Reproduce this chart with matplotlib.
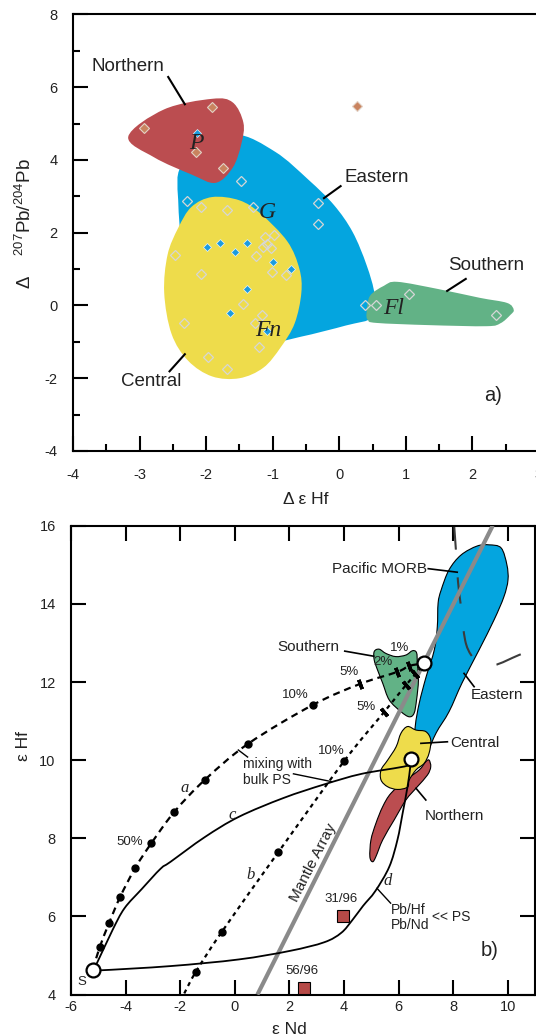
import numpy as np
import matplotlib
matplotlib.use('Agg')
import matplotlib.pyplot as plt
from matplotlib.path import Path
from matplotlib.patches import PathPatch

plt.rcParams['font.family'] = ['Liberation Sans', 'DejaVu Sans']
plt.rcParams['axes.unicode_minus'] = False
plt.rcParams['mathtext.fontset'] = 'custom'
plt.rcParams['mathtext.rm'] = 'Liberation Sans'
plt.rcParams['lines.scale_dashes'] = False

# ---- panel a: field outlines (delta eHf, delta 207Pb/204Pb) ----
north_a_x = [-3.17, -2.63, -1.91, -1.60, -1.44, -1.47, -1.60, -1.86, -2.22, -2.78]
north_a_y = [4.64, 5.39, 5.68, 5.58, 5.02, 4.45, 3.79, 3.37, 3.60, 4.07]
east_a_x = [-2.39, -2.05, -1.55, -0.96, -0.46, -0.08, 0.20, 0.41, 0.53, 0.50,
            0.10, -0.58, -1.11, -1.79, -2.31, -2.42]
east_a_y = [3.78, 4.15, 4.69, 4.22, 3.45, 2.76, 2.02, 1.11, 0.30, -0.32,
            -0.55, -0.86, -1.02, -0.67, 1.25, 2.90]
central_a_x = [-1.91, -1.50, -1.18, -0.78, -0.60, -0.57, -0.67, -0.88, -1.14, -1.50,
               -1.91, -2.27, -2.52, -2.63, -2.58, -2.42, -2.22]
central_a_y = [2.98, 2.89, 2.52, 1.76, 1.01, 0.35, -0.49, -1.15, -1.71, -2.00,
               -1.95, -1.52, -0.78, 0.35, 1.39, 2.13, 2.71]
south_a_x = [0.41, 0.46, 0.67, 0.87, 1.49, 2.11, 2.52, 2.62, 2.57, 2.42, 2.21, 1.34, 0.56, 0.43]
south_a_y = [-0.20, 0.26, 0.54, 0.65, 0.45, 0.21, 0.07, -0.12, -0.26, -0.49, -0.57, -0.54, -0.48, -0.40]

# samples
open_x = [-1.47, -2.29, -2.07, -1.69, -1.30, -0.32, -0.32, -1.11, -0.98, -1.14, -1.03, -1.09,
          -1.25, -2.47, -2.07, -1.01, -0.80, -1.45, -2.34, -1.26, -1.16, -1.21, -1.97, -1.69,
          0.38, 0.55, 1.05, 2.35]
open_y = [3.42, 2.88, 2.72, 2.63, 2.72, 2.82, 2.23, 1.87, 1.95, 1.62, 1.57, 1.69,
          1.37, 1.40, 0.87, 0.91, 0.83, 0.05, -0.49, -0.49, -0.26, -1.13, -1.42, -1.74,
          0.00, 0.00, 0.32, -0.25]
blue_x = [-2.14, -1.98, -1.79, -1.57, -1.38, -1.00, -0.72, -1.38, -1.64, -1.09]
blue_y = [4.73, 1.62, 1.71, 1.48, 1.71, 1.19, 1.01, 0.45, -0.20, -0.69]
brown_x = [-2.94, -1.91, -2.15, -1.74, 0.27]
brown_y = [4.87, 5.46, 4.23, 3.77, 5.48]

# ---- panel b: eNd vs eHf ----
east_b_x = [9.32, 9.76, 9.97, 10.01, 9.86, 9.50, 8.95, 8.33, 7.85, 7.38, 7.05, 6.76,
            6.54, 6.61, 6.76, 7.01, 7.31, 7.42, 7.45, 7.56, 7.85, 8.29, 8.88]
east_b_y = [15.51, 15.43, 15.00, 14.61, 14.18, 13.59, 12.82, 11.98, 11.24, 10.70, 10.18, 9.83,
            10.01, 10.85, 11.46, 12.13, 12.82, 13.41, 14.02, 14.35, 14.87, 15.25, 15.48]
south_b_x = [5.11, 5.29, 5.54, 5.90, 6.27, 6.51, 6.66, 6.69, 6.73, 6.66, 6.57, 6.39,
             6.09, 5.66, 5.42, 5.23, 5.11]
south_b_y = [12.78, 12.84, 12.73, 12.65, 12.69, 12.80, 12.75, 12.48, 12.05, 11.54, 11.20, 11.11,
             11.24, 11.54, 11.97, 12.31, 12.56]
central_b_x = [6.33, 6.64, 7.00, 7.18, 7.12, 6.94, 6.64, 6.39, 6.33, 5.96, 5.60, 5.36,
               5.36, 5.60, 5.91, 6.09]
central_b_y = [10.86, 10.77, 10.73, 10.52, 10.18, 9.92, 9.75, 9.49, 9.31, 9.25, 9.32, 9.49,
               9.75, 10.00, 10.34, 10.69]
north_b_x = [7.12, 7.18, 7.06, 6.69, 6.27, 5.84, 5.42, 5.17, 5.05, 4.95, 4.99, 5.17,
             5.42, 5.72, 6.27, 6.76, 7.00]
north_b_y = [10.00, 9.83, 9.62, 9.32, 8.98, 8.47, 7.96, 7.53, 7.40, 7.53, 7.96, 8.38,
             8.81, 9.15, 9.49, 9.75, 9.96]
morb_x = [8.04, 8.11, 8.18, 8.29, 8.44, 8.66, 8.95, 9.50, 10.41, 11.14]
morb_y = [15.99, 15.30, 14.56, 13.92, 13.07, 12.69, 12.51, 12.43, 12.69, 12.89]
mantle_x = [0.83, 9.45]
mantle_y = [4.0, 16.0]

# end members: S (sediment), Southern and Central sources
ends_x = [-5.20, 6.94, 6.45]
ends_y = [4.64, 12.48, 10.02]

# mixing curves
a_x = [-5.20, -4.95, -4.60, -4.20, -3.64, -3.06, -2.21, -1.09, 0.49, 2.85, 4.59, 5.96, 6.39, 6.94]
a_y = [4.64, 5.21, 5.84, 6.50, 7.25, 7.87, 8.68, 9.50, 10.42, 11.41, 11.95, 12.26, 12.41, 12.48]
a_dot_x = [-4.95, -4.60, -4.20, -3.64, -3.06, -2.21, -1.09, 0.49, 2.85]
a_dot_y = [5.21, 5.84, 6.50, 7.25, 7.87, 8.68, 9.50, 10.42, 11.41]
a_tick_x = [4.59, 5.96, 6.39]
a_tick_y = [11.95, 12.26, 12.41]
b_x = [-1.85, -1.43, -0.48, 1.59, 4.00, 5.46, 6.27, 6.62, 6.94]
b_y = [4.03, 4.58, 5.60, 7.64, 9.97, 11.22, 11.92, 12.20, 12.48]
b_dot_x = [-1.43, -0.48, 1.59, 4.00]
b_dot_y = [4.58, 5.60, 7.64, 9.97]
b_tick_x = [5.46, 6.27, 6.62]
b_tick_y = [11.22, 11.92, 12.20]
c_x = [-5.20, -5.04, -4.48, -4.04, -3.41, -2.72, -2.35, -1.10, 0.15, 1.78, 3.28, 4.65, 6.34, 6.45]
c_y = [4.64, 4.82, 5.65, 6.21, 6.70, 7.22, 7.40, 8.03, 8.55, 9.03, 9.38, 9.65, 9.86, 10.02]
d_x = [-5.20, -4.98, -2.35, 0.15, 2.03, 3.28, 3.90, 4.30, 4.70, 5.15, 5.66, 5.96, 6.15, 6.33, 6.43, 6.45]
d_y = [4.64, 4.62, 4.73, 4.90, 5.12, 5.34, 5.58, 5.90, 6.27, 6.65, 7.27, 7.96, 8.64, 9.32, 9.83, 10.02]

# individual samples
sq_x = [3.96, 2.53]
sq_y = [6.00, 4.16]
sq_labels = ['31/96', '56/96']

pct_labels = ['1%', '2%', '5%', '5%', '10%', '10%', '50%']
pct_x = [6.03, 5.42, 4.20, 4.81, 2.21, 3.52, -3.85]
pct_y = [12.86, 12.52, 12.26, 11.37, 11.66, 10.23, 7.91]

RED = '#BB4D50'
BLUE = '#04A5DF'
YELLOW = '#EEDC4B'
GREEN = '#62B286'


def smooth_path(xs, ys, closed=True):
    pts = np.column_stack([xs, ys]).astype(float)
    if closed:
        ext = np.vstack([pts[-1], pts, pts[0], pts[1]])
        nseg = len(pts)
    else:
        ext = np.vstack([pts[0], pts, pts[-1]])
        nseg = len(pts) - 1
    verts = [ext[1]]
    codes = [Path.MOVETO]
    for i in range(nseg):
        p0, p1, p2, p3 = ext[i], ext[i + 1], ext[i + 2], ext[i + 3]
        verts += [p1 + (p2 - p0) / 6, p2 - (p3 - p1) / 6, p2]
        codes += [Path.CURVE4] * 3
    if closed:
        verts.append(ext[1])
        codes.append(Path.CLOSEPOLY)
    return Path(verts, codes)


def px(x, y):
    return x / 536, 1 - y / 1036


fig = plt.figure(figsize=(5.36, 10.36), dpi=100)
ax1 = fig.add_axes([73 / 536, 1 - 451 / 1036, (539 - 73) / 536, (451 - 14.4) / 1036])
ax2 = fig.add_axes([71 / 536, 1 - 994.6 / 1036, (535 - 71) / 536, (994.6 - 525.7) / 1036])

# ---------------- panel a ----------------
for xs, ys, col in [(east_a_x, east_a_y, BLUE), (central_a_x, central_a_y, YELLOW),
                    (north_a_x, north_a_y, RED), (south_a_x, south_a_y, GREEN)]:
    ax1.add_patch(PathPatch(smooth_path(xs, ys), facecolor=col, edgecolor='none', zorder=1))

ax1.plot(open_x, open_y, 'D', ms=5, mfc='none', mec='#D6D6D6', mew=0.9, zorder=3)
ax1.plot(blue_x, blue_y, 'D', ms=4.5, mfc='#1A9BE0', mec='#E8F4FA', mew=0.5, zorder=3)
ax1.plot(brown_x, brown_y, 'D', ms=5, mfc='#C9835F', mec='#E2D2C6', mew=0.8, zorder=3)

serif_it = dict(family='Liberation Serif', style='italic', fontsize=17, ha='center',
                va='center', zorder=5, color='#222222')
ax1.text(-2.15, 4.45, 'P', **serif_it)
ax1.text(-1.08, 2.56, 'G', **serif_it)
ax1.text(-1.06, -0.68, 'Fn', **serif_it)
ax1.text(0.82, -0.07, 'Fl', **serif_it)

lab_a = dict(fontsize=13.5, ha='center', va='center', color='#222222', zorder=5)
ax1.text(-3.17, 6.56, 'Northern', **lab_a)
ax1.plot([-2.57, -2.32], [6.28, 5.53], color='k', lw=1.5, zorder=4)
ax1.text(0.56, 3.51, 'Eastern', **lab_a)
ax1.plot([0.02, -0.23], [3.28, 2.95], color='k', lw=1.5, zorder=4)
ax1.text(2.21, 1.10, 'Southern', **lab_a)
ax1.plot([1.90, 1.62], [0.73, 0.40], color='k', lw=1.5, zorder=4)
ax1.text(-2.83, -2.09, 'Central', **lab_a)
ax1.plot([-2.55, -2.32], [-1.81, -1.34], color='k', lw=1.5, zorder=4)
ax1.text(2.31, -2.47, 'a)', fontsize=14.5, ha='center', va='center', color='#222222')

ax1.set_xlim(-4, 3)
ax1.set_ylim(-4, 8)
ax1.set_xticks(np.arange(-4, 4, 1))
ax1.set_xticks(np.arange(-3.5, 3, 1), minor=True)
ax1.set_yticks(np.arange(-4, 9, 2))
ax1.set_yticks(np.arange(-3, 8, 2), minor=True)
ax1.tick_params(which='both', direction='in', top=False, right=False, width=1.5,
                labelsize=10.5, colors='k', labelcolor='#222222')
ax1.tick_params(which='major', length=11)
ax1.tick_params(which='minor', length=5)
ax1.tick_params(axis='x', pad=12)
ax1.tick_params(axis='y', pad=11)
for s in ax1.spines.values():
    s.set_linewidth(1.5)

fig.text(*px(306, 500), 'Δ ε Hf', fontsize=12.5, ha='center', va='center', color='#222222')
fig.text(*px(25, 224), 'Δ    $^{207}$Pb/$^{204}$Pb', fontsize=13.5, rotation=90,
         ha='center', va='center', color='#222222')

# ---------------- panel b ----------------
for xs, ys, col in [(east_b_x, east_b_y, BLUE), (north_b_x, north_b_y, RED),
                    (central_b_x, central_b_y, YELLOW), (south_b_x, south_b_y, GREEN)]:
    ax2.add_patch(PathPatch(smooth_path(xs, ys), facecolor=col, edgecolor='k', lw=0.8, zorder=1))

ax2.add_patch(PathPatch(smooth_path(morb_x, morb_y, closed=False), fill=False,
                        edgecolor='#3C3C3C', lw=1.5, linestyle=(2, (19, 20)), zorder=2))
ax2.plot(mantle_x, mantle_y, color='#8A8A8A', lw=3, solid_capstyle='butt', zorder=3)
ax2.text(2.86, 7.39, 'Mantle Array', rotation=63, fontsize=11, ha='center', va='center',
         color='#222222', zorder=4)

ax2.add_patch(PathPatch(smooth_path(a_x, a_y, closed=False), fill=False, edgecolor='k',
                        lw=1.6, linestyle=(0, (5, 3.5)), zorder=4))
ax2.add_patch(PathPatch(smooth_path(b_x, b_y, closed=False), fill=False, edgecolor='k',
                        lw=1.6, linestyle=(0, (3, 3)), zorder=4))
ax2.add_patch(PathPatch(smooth_path(c_x, c_y, closed=False), fill=False, edgecolor='k',
                        lw=1.3, zorder=4))
ax2.add_patch(PathPatch(smooth_path(d_x, d_y, closed=False), fill=False, edgecolor='k',
                        lw=1.3, zorder=4))
ax2.plot(a_dot_x, a_dot_y, 'o', ms=5, color='k', zorder=5)
ax2.plot(b_dot_x, b_dot_y, 'o', ms=5, color='k', zorder=5)
ax2.plot(a_tick_x, a_tick_y, ls='none', marker=(2, 2, 20), ms=7, mew=2.5, color='k', zorder=5)
ax2.plot(b_tick_x, b_tick_y, ls='none', marker=(2, 2, 40), ms=7, mew=2.5, color='k', zorder=5)
ax2.plot(ends_x, ends_y, 'o', ms=10, mfc='white', mec='k', mew=1.6, zorder=6)

ax2.plot(sq_x, sq_y, 's', ms=8, mfc='#B64A47', mec='k', mew=0.8, zorder=5, clip_on=False)
for x, y, t in zip(sq_x, sq_y, sq_labels):
    ax2.text(x - 0.05, y + 0.3, t, fontsize=9.5, ha='center', va='bottom', color='#222222')

for x, y, t in zip(pct_x, pct_y, pct_labels):
    ax2.text(x, y, t, fontsize=9.5, ha='center', va='center', color='#222222', zorder=6)

curve_it = dict(family='Liberation Serif', style='italic', fontsize=12, ha='center',
                va='center', color='#222222', zorder=6)
ax2.text(-1.85, 9.30, 'a', **curve_it)
ax2.text(0.59, 7.05, 'b', **curve_it)
ax2.text(-0.10, 8.60, 'c', **curve_it)
ax2.text(5.59, 6.91, 'd', **curve_it)
ax2.text(-5.62, 4.33, 'S', fontsize=9.5, ha='center', va='center', color='#222222')

lab_b = dict(fontsize=11, va='center', color='#222222', zorder=6)
ax2.text(7.03, 14.90, 'Pacific MORB', ha='right', **lab_b)
ax2.plot([7.09, 8.15], [14.90, 14.81], color='k', lw=1.2, zorder=6)
ax2.text(3.84, 12.90, 'Southern', ha='right', **lab_b)
ax2.plot([4.03, 5.09], [12.79, 12.66], color='k', lw=1.2, zorder=6)
ax2.text(9.61, 11.66, 'Eastern', ha='center', **lab_b)
ax2.plot([8.40, 8.77], [12.22, 11.88], color='k', lw=1.2, zorder=6)
ax2.text(7.90, 10.45, 'Central', ha='left', **lab_b)
ax2.plot([6.82, 7.79], [10.43, 10.47], color='k', lw=1.2, zorder=6)
ax2.text(8.06, 8.57, 'Northern', ha='center', **lab_b)
ax2.plot([6.64, 7.00], [9.28, 8.98], color='k', lw=1.2, zorder=6)

ax2.text(0.30, 9.91, 'mixing with', fontsize=10, ha='left', va='center', color='#222222', zorder=6)
ax2.text(0.30, 9.50, 'bulk PS', fontsize=10, ha='left', va='center', color='#222222', zorder=6)
ax2.plot([0.13, 0.47], [10.26, 10.08], color='k', lw=1.0, zorder=6)
ax2.plot([2.15, 3.55], [9.65, 9.45], color='k', lw=1.0, zorder=6)

ax2.text(5.71, 6.17, 'Pb/Hf', fontsize=10, ha='left', va='center', color='#222222')
ax2.text(5.71, 5.78, 'Pb/Nd', fontsize=10, ha='left', va='center', color='#222222')
ax2.text(7.21, 5.98, '<< PS', fontsize=10, ha='left', va='center', color='#222222')
ax2.plot([5.21, 5.71], [6.72, 6.34], color='k', lw=1.0)
ax2.text(9.34, 5.12, 'b)', fontsize=14.5, ha='center', va='center', color='#222222')

ax2.set_xlim(-6, 11)
ax2.set_ylim(4, 16)
ax2.set_xticks(np.arange(-6, 11, 2))
ax2.set_yticks(np.arange(4, 17, 2))
ax2.tick_params(direction='in', top=True, right=True, width=1.5, length=11,
                labelsize=10.5, colors='k', labelcolor='#222222')
ax2.tick_params(axis='x', pad=4)
ax2.tick_params(axis='y', pad=11)
for s in ax2.spines.values():
    s.set_linewidth(1.5)

fig.text(*px(289, 1030), 'ε Nd', fontsize=12.5, ha='center', va='center', color='#222222')
fig.text(*px(23, 746), 'ε Hf', fontsize=12.5, rotation=90, ha='center', va='center',
         color='#222222')

fig.savefig('out.png', dpi=100)
